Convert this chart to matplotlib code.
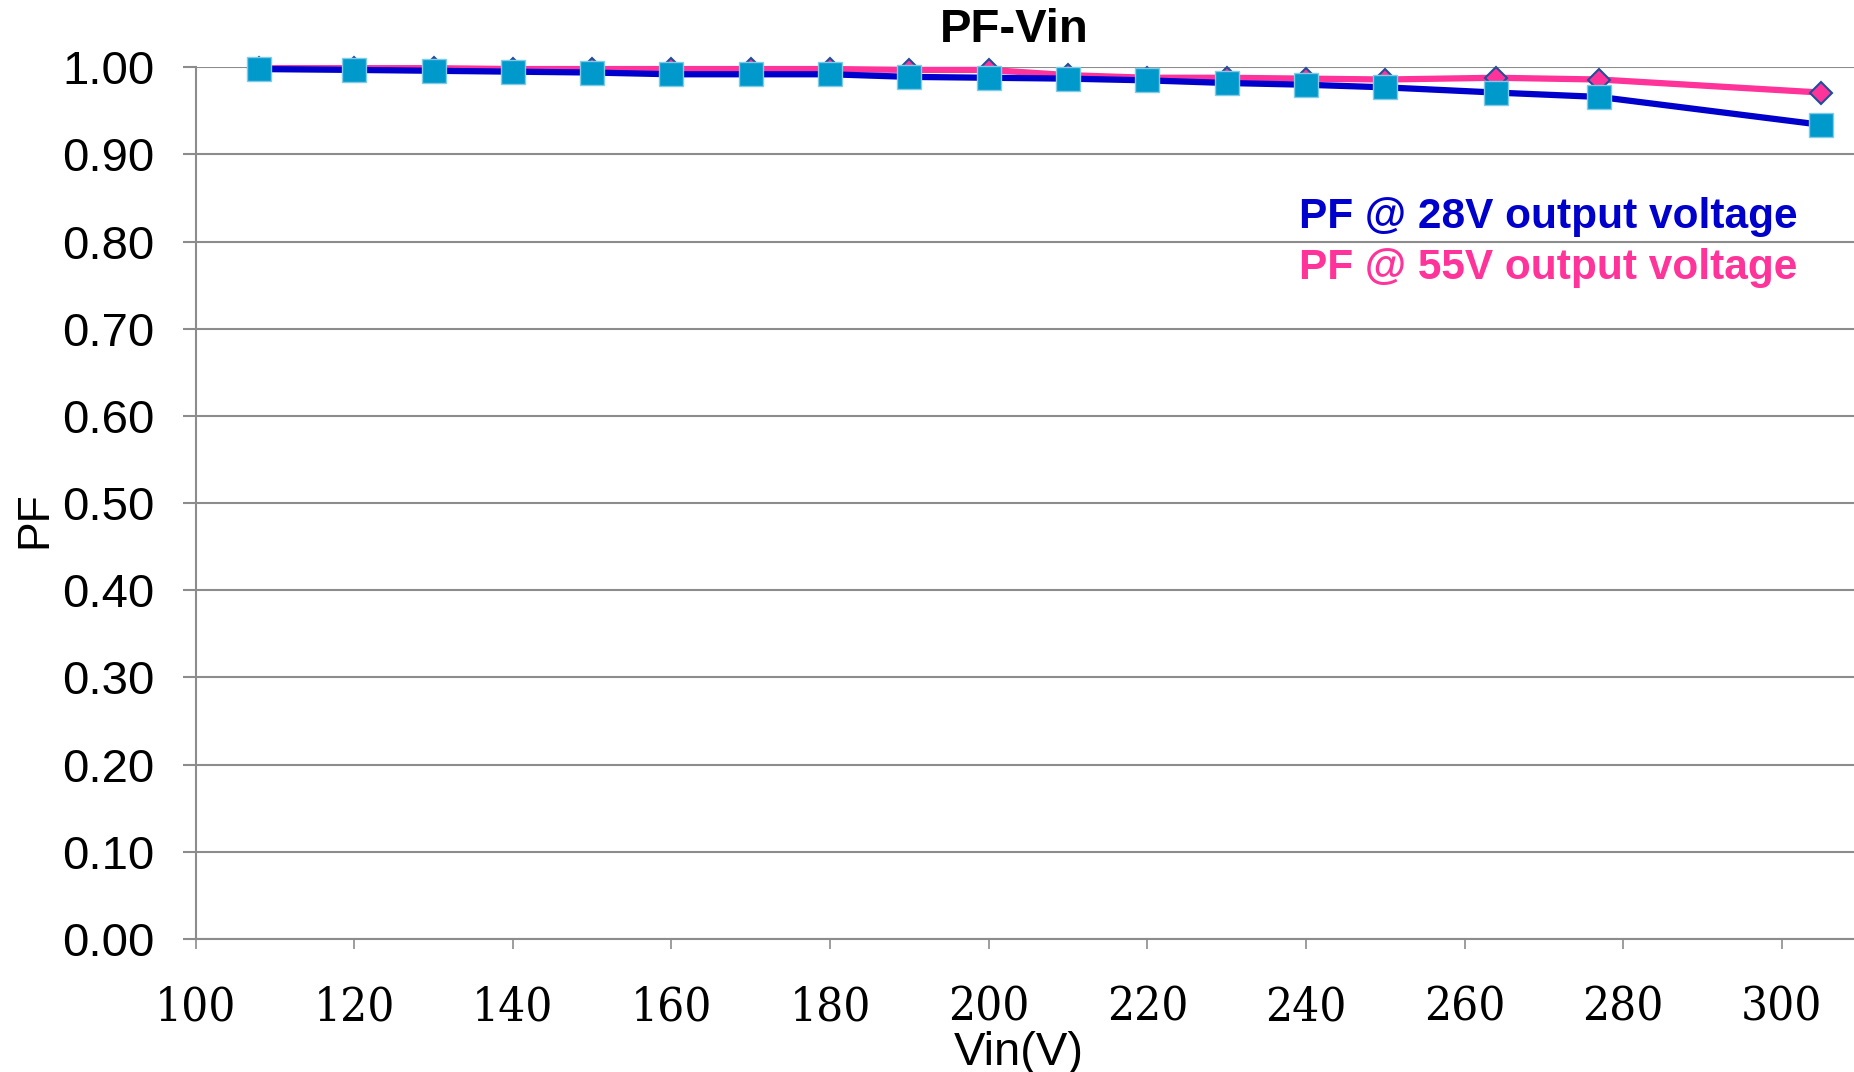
import matplotlib
matplotlib.use("Agg")
import matplotlib.pyplot as plt
from matplotlib.ticker import FormatStrFormatter

vin = [108, 120, 130, 140, 150, 160, 170, 180, 190, 200, 210, 220, 230, 240, 250, 264, 277, 305]
pf_28v = [0.998, 0.997, 0.996, 0.995, 0.994, 0.992, 0.992, 0.992, 0.989, 0.988,
          0.987, 0.985, 0.982, 0.980, 0.977, 0.971, 0.966, 0.934]
pf_55v = [0.999, 0.999, 0.999, 0.998, 0.998, 0.998, 0.998, 0.998, 0.997, 0.997,
          0.991, 0.988, 0.988, 0.987, 0.986, 0.988, 0.986, 0.971]
xticks = [100, 120, 140, 160, 180, 200, 220, 240, 260, 280, 300]
yticks = [0.0, 0.1, 0.2, 0.3, 0.4, 0.5, 0.6, 0.7, 0.8, 0.9, 1.0]
labels = ["PF @ 28V output voltage", "PF @ 55V output voltage"]

W, H = 1854, 1072
fig = plt.figure(figsize=(W / 100, H / 100), dpi=100)
ax = fig.add_axes([195.6 / W, 1 - 939 / H, 1 - 195.6 / W, (939 - 67.3) / H])

grid_c = "#8C8C8C"
ax.plot(vin, pf_55v, color="#FF3399", lw=4.5, marker="D", ms=11.5,
        mfc="#FF3399", mec="#1F4E99", mew=1.5, clip_on=False, zorder=3)
ax.plot(vin, pf_28v, color="#0000CC", lw=4.5, marker="s", ms=17,
        mfc="#0099CC", mec="#80CCE6", mew=1.0, clip_on=False, zorder=4)

ax.set_xlim(100, 309.1)
ax.set_ylim(0, 1.0)
ax.set_xticks(xticks)
ax.set_yticks(yticks)
ax.yaxis.set_major_formatter(FormatStrFormatter("%.2f"))
ax.grid(axis="y", color=grid_c, lw=1.5)
ax.set_axisbelow(True)
for s in ["top", "right"]:
    ax.spines[s].set_visible(False)
ax.spines["left"].set_color(grid_c)
ax.spines["left"].set_linewidth(1.5)
ax.spines["bottom"].set_color(grid_c)
ax.spines["bottom"].set_linewidth(1.5)
ax.tick_params(axis="y", direction="out", length=9.4, width=1.5, color=grid_c,
               pad=20, labelsize=34)
ax.tick_params(axis="x", direction="out", length=7, width=1.2, color=grid_c,
               pad=26, labelsize=34)
for t in ax.get_yticklabels():
    t.set_fontfamily(["Liberation Sans", "DejaVu Sans"])
for t in ax.get_xticklabels():
    t.set_fontfamily(["DejaVu Serif", "Liberation Serif"])
    t.set_fontstretch("condensed")

fig.text(1014 / W, 1 - 30 / H, "PF-Vin", ha="center", va="center",
         fontsize=34, fontweight="bold", family=["Liberation Sans", "DejaVu Sans"])
fig.text(1019 / W, 1 - 1053 / H, "Vin(V)", ha="center", va="center",
         fontsize=34, family=["Liberation Sans Narrow", "Liberation Sans", "DejaVu Sans"])
fig.text(35 / W, 1 - 520 / H, "PF", ha="center", va="center", rotation=90,
         fontsize=32, family=["Liberation Sans", "DejaVu Sans"])
fig.text(1299 / W, 1 - 217.5 / H, labels[0], ha="left", va="center", color="#0000CC",
         fontsize=30.5, fontweight="bold", family=["Liberation Sans", "DejaVu Sans"])
fig.text(1299 / W, 1 - 267.5 / H, labels[1], ha="left", va="center", color="#FF3399",
         fontsize=30.5, fontweight="bold", family=["Liberation Sans", "DejaVu Sans"])

fig.savefig("out.png", dpi=100)
